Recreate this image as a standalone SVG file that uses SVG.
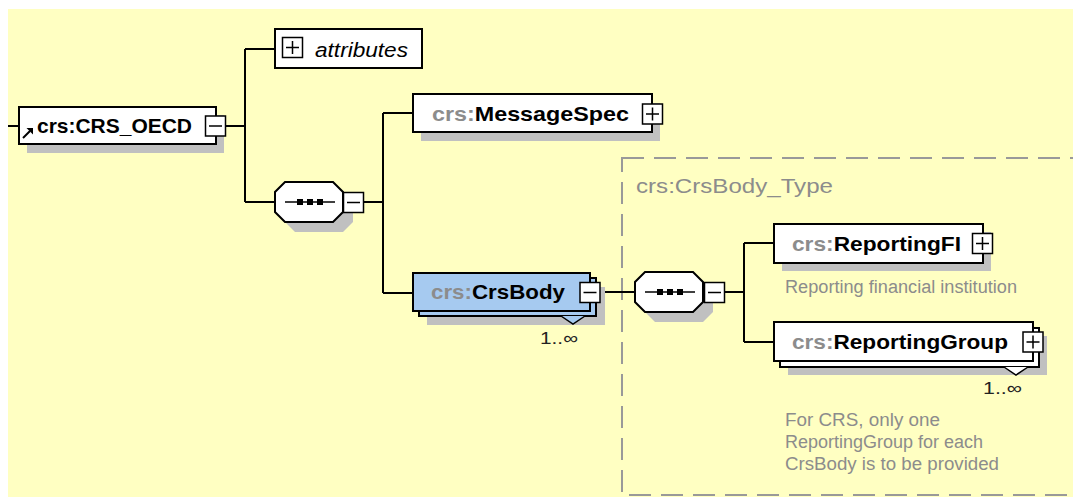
<svg xmlns="http://www.w3.org/2000/svg" width="1073" height="498" viewBox="0 0 1073 498">
<defs>
<style>
.bg{fill:#FFFFC2}
.box{fill:#FFFFFF;stroke:#000;stroke-width:2}
.sel{fill:#A6CAF0;stroke:#000;stroke-width:2}
.sh{fill:#C0C0C0}
.btn{fill:#FFFFFF;stroke:#000;stroke-width:1.5}
.sym{stroke:#000;stroke-width:1.5;fill:none}
.ln{stroke:#000;stroke-width:2;fill:none}
.name{font-family:"Liberation Sans",Arial,sans-serif;font-size:21px;font-weight:bold;fill:#000}
.pre{fill:#8C8C8C}
.ital{font-family:"Liberation Sans",Arial,sans-serif;font-size:20px;font-style:italic;fill:#000}
.ann{font-family:"Liberation Sans",Arial,sans-serif;font-size:18px;fill:#8C8C8C}
.mult{font-family:"Liberation Sans",Arial,sans-serif;font-size:17px;fill:#222}
.type{font-family:"Liberation Sans",Arial,sans-serif;font-size:21px;fill:#8C8C8C}
.dash{fill:none;stroke:#999;stroke-width:2;stroke-dasharray:22 10}
</style>
</defs>
<rect class="bg" x="8" y="9" width="1065" height="488"/>

<g id="type-box">
<rect class="dash" x="622" y="158" width="470" height="337"/>
<text class="type" x="636" y="193" textLength="197" lengthAdjust="spacingAndGlyphs">crs:CrsBody_Type</text>
</g>

<g id="connectors">
<path class="ln" d="M8 126H19"/>
<path class="ln" d="M225 126H245M245 49V202M245 49H275M245 202H275"/>
<path class="ln" d="M364 202H383M383 113V293M383 113H413M383 293H413"/>
<path class="ln" d="M601 292H635"/>
<path class="ln" d="M725 292H744M744 243V342M744 243H774M744 342H774"/>
</g>

<g id="crs-oecd">
<rect class="sh" x="27" y="115" width="197" height="38"/>
<rect class="box" x="19" y="107" width="197" height="37"/>
<path d="M23 138L30 131" stroke="#000" stroke-width="2"/>
<polygon points="33,128 33,134.5 26.5,128" fill="#000"/>
<text class="name" x="37" y="133" textLength="155" lengthAdjust="spacingAndGlyphs">crs:CRS_OECD</text>
<rect class="btn" x="205.5" y="116" width="20" height="20"/>
<path class="sym" d="M209 126H222"/>
</g>

<g id="attributes">
<rect class="box" x="275" y="29" width="147" height="39"/>
<rect class="btn" x="282.5" y="37.5" width="20" height="20"/>
<path class="sym" d="M286 47.5H299M292.5 41V54"/>
<text class="ital" x="315" y="57" textLength="93" lengthAdjust="spacingAndGlyphs">attributes</text>
</g>

<g id="sequence-1">
<polygon class="sh" points="295,192 343,192 353,202 353,222 343,232 295,232 285,222 285,202"/>
<polygon class="box" points="285,182 333,182 343,192 343,212 333,222 285,222 275,212 275,192"/>
<path d="M285 202H335" stroke="#000" stroke-width="1.5"/>
<rect x="297" y="199" width="6" height="6" fill="#000"/>
<rect x="307" y="199" width="6" height="6" fill="#000"/>
<rect x="317" y="199" width="6" height="6" fill="#000"/>
<rect class="btn" x="343.5" y="192.5" width="20" height="20"/>
<path class="sym" d="M347 202.5H360"/>
</g>

<g id="messagespec">
<rect class="sh" x="421" y="103" width="239" height="38"/>
<rect class="box" x="413" y="94" width="239" height="38"/>
<text class="name" x="432" y="121" textLength="197" lengthAdjust="spacingAndGlyphs"><tspan class="pre">crs:</tspan>MessageSpec</text>
<rect class="btn" x="642.5" y="104" width="20" height="20"/>
<path class="sym" d="M646 114H659M652.5 107.5V120.5"/>
</g>

<g id="crsbody">
<rect class="sh" x="427" y="287" width="178" height="38"/>
<rect class="sel" x="419" y="278" width="177" height="38"/>
<rect class="sel" x="413" y="273" width="177" height="38"/>
<polyline points="561,316 573,324 585,316" fill="#A6CAF0" stroke="#000" stroke-width="1.5"/>
<text class="name" x="431" y="299" textLength="134" lengthAdjust="spacingAndGlyphs"><tspan class="pre">crs:</tspan>CrsBody</text>
<rect class="btn" x="580" y="282.5" width="20" height="20"/>
<path class="sym" d="M583.5 292.5H596.5"/>
<text class="mult" x="540" y="344" textLength="38" lengthAdjust="spacingAndGlyphs">1..∞</text>
</g>

<g id="sequence-2">
<polygon class="sh" points="655,282 703,282 713,292 713,312 703,322 655,322 645,312 645,292"/>
<polygon class="box" points="645,272 693,272 703,282 703,302 693,312 645,312 635,302 635,282"/>
<path d="M645 292H695" stroke="#000" stroke-width="1.5"/>
<rect x="657" y="289" width="6" height="6" fill="#000"/>
<rect x="667" y="289" width="6" height="6" fill="#000"/>
<rect x="677" y="289" width="6" height="6" fill="#000"/>
<rect class="btn" x="704.5" y="282.5" width="20" height="20"/>
<path class="sym" d="M708 292.5H721"/>
</g>

<g id="reportingfi">
<rect class="sh" x="782" y="232" width="209" height="39"/>
<rect class="box" x="774" y="224" width="209" height="39"/>
<text class="name" x="792" y="251" textLength="169" lengthAdjust="spacingAndGlyphs"><tspan class="pre">crs:</tspan>ReportingFI</text>
<rect class="btn" x="972.5" y="233.5" width="20" height="20"/>
<path class="sym" d="M976 243.5H989M982.5 237V250"/>
<text class="ann" x="785" y="293" textLength="232" lengthAdjust="spacingAndGlyphs">Reporting financial institution</text>
</g>

<g id="reportinggroup">
<rect class="sh" x="788" y="336" width="259" height="39"/>
<rect class="box" x="780" y="328" width="259" height="39"/>
<rect class="box" x="774" y="322" width="259" height="39"/>
<polyline points="1004,367 1016,375 1028,367" fill="#FFFFFF" stroke="#000" stroke-width="1.5"/>
<text class="name" x="792" y="349" textLength="216" lengthAdjust="spacingAndGlyphs"><tspan class="pre">crs:</tspan>ReportingGroup</text>
<rect class="btn" x="1023" y="332" width="20" height="20"/>
<path class="sym" d="M1026.5 342H1039.5M1033 335.5V348.5"/>
<text class="mult" x="983" y="394" textLength="39" lengthAdjust="spacingAndGlyphs">1..∞</text>
<text class="ann" x="785" y="426" textLength="155" lengthAdjust="spacingAndGlyphs">For CRS, only one</text>
<text class="ann" x="785" y="448" textLength="198" lengthAdjust="spacingAndGlyphs">ReportingGroup for each</text>
<text class="ann" x="785" y="470" textLength="214" lengthAdjust="spacingAndGlyphs">CrsBody is to be provided</text>
</g>
</svg>
